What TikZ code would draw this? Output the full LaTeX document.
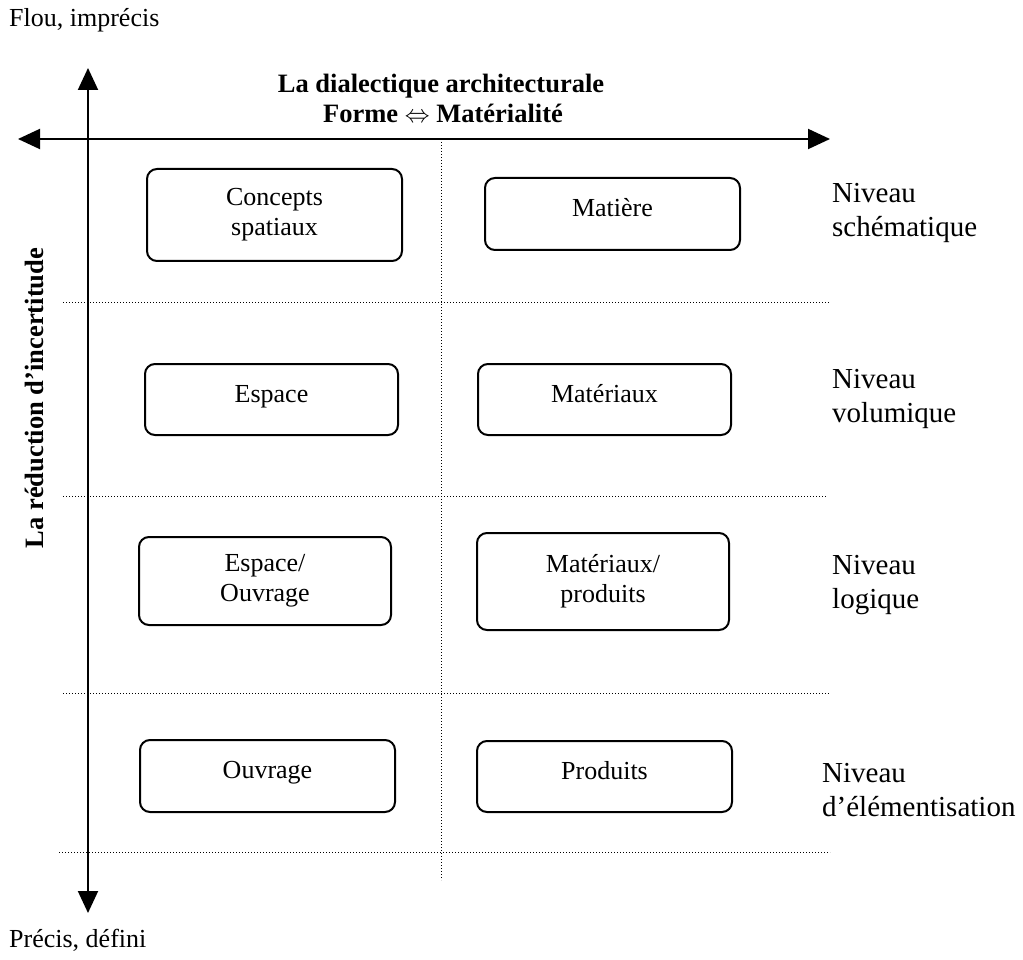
\documentclass[tikz,border=0pt]{standalone}
\usepackage{fontspec}
\setmainfont{Liberation Serif}
\usetikzlibrary{arrows.meta}
\begin{document}
\begin{tikzpicture}[x=1pt,y=-1pt,
  every node/.style={font=\fontsize{26}{30}\selectfont, inner sep=0pt},
  box/.style={draw, line width=2pt, rounded corners=10pt, align=center},
  one/.style={text height=18pt, text depth=13pt},
  axisline/.style={line width=2pt, {Triangle[length=22pt,width=20pt]}-{Triangle[length=22pt,width=20pt]}},
  gridline/.style={line width=1pt, dash pattern=on 1pt off 2pt},
  lvl/.style={anchor=west, align=left, font=\fontsize{29}{34}\selectfont},
  ttl/.style={font=\fontsize{26.5}{30}\selectfont\bfseries}]
\useasboundingbox (0,0) rectangle (1023,960);

% extreme labels
\node[anchor=west] (flou) at (9,20) {Flou, imprécis};
\node[anchor=west] (precis) at (9,940) {Précis, défini};

% title
\node[ttl] (t1) at (441,86) {La dialectique architecturale};
\node[ttl] (t2) at (443,113) {Forme $\Leftrightarrow$ Matérialité};

% rotated label
\node[ttl, rotate=90] (red) at (34,398) {La réduction d’incertitude};

% grid lines
\coordinate (vd1) at (441,139);
\coordinate (vd2) at (441,880);
\draw[gridline] (vd1) -- (vd2);
\coordinate (h1a) at (63,302);  \coordinate (h1b) at (830,302);
\coordinate (h2a) at (63,496);  \coordinate (h2b) at (826,496);
\coordinate (h3a) at (63,693);  \coordinate (h3b) at (830,693);
\coordinate (h4a) at (59,852);  \coordinate (h4b) at (830,852);
\draw[gridline] (h1a) -- (h1b);
\draw[gridline] (h2a) -- (h2b);
\draw[gridline] (h3a) -- (h3b);
\draw[gridline] (h4a) -- (h4b);

% axes
\coordinate (vtop) at (88,68);
\coordinate (vbot) at (88,913);
\coordinate (hl) at (18,139);
\coordinate (hr) at (830,139);
\draw[axisline] (vtop) -- (vbot);
\draw[axisline] (hl) -- (hr);

% boxes
\node[box, minimum width=255pt, minimum height=92pt] (b1) at (274.5,215) {Concepts\\spatiaux};
\node[box, one, minimum width=255pt, minimum height=72pt] (b2) at (612.5,214) {Matière};
\node[box, one, minimum width=253pt, minimum height=71pt] (b3) at (271.5,399.5) {Espace};
\node[box, one, minimum width=253pt, minimum height=71pt] (b4) at (604.5,399.5) {Matériaux};
\node[box, minimum width=252pt, minimum height=88pt] (b5) at (265,581) {Espace/\\Ouvrage};
\node[box, minimum width=252pt, minimum height=97pt] (b6) at (603,581.5) {Matériaux/\\produits};
\node[box, one, minimum width=255pt, minimum height=72pt] (b7) at (267.5,776) {Ouvrage};
\node[box, one, minimum width=255pt, minimum height=71pt] (b8) at (604.5,776.5) {Produits};

% level labels
\node[lvl] (l1) at (832,213) {Niveau\\schématique};
\node[lvl] (l2) at (832,399) {Niveau\\volumique};
\node[lvl] (l3) at (832,585) {Niveau\\logique};
\node[lvl] (l4) at (822,790) {Niveau\\d’élémentisation};
\end{tikzpicture}
\end{document}
